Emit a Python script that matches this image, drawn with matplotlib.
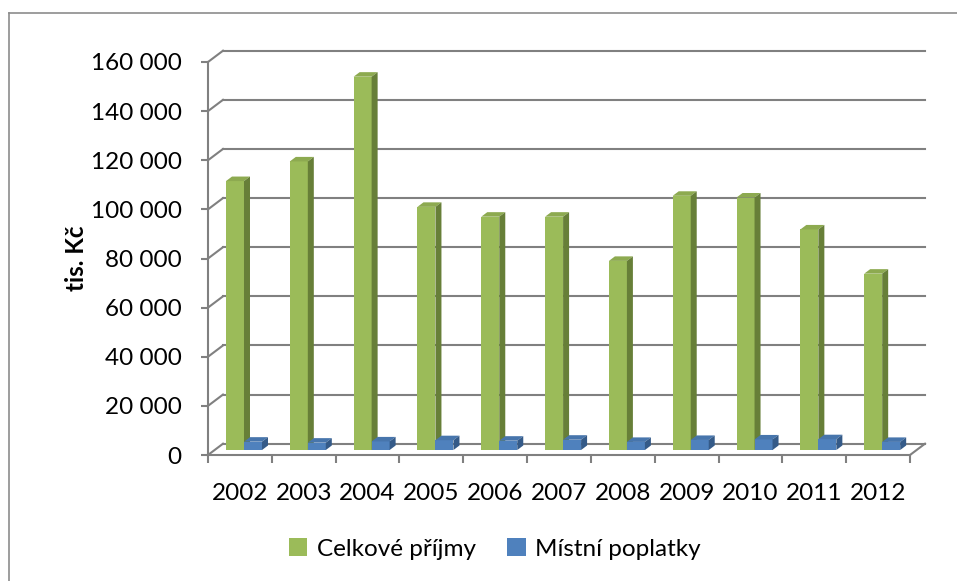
import matplotlib.pyplot as plt
from matplotlib.patches import Polygon, Patch
from matplotlib.lines import Line2D

plt.rcParams['font.family'] = ['Lato', 'DejaVu Sans']

years = ['2002', '2003', '2004', '2005', '2006', '2007', '2008', '2009', '2010', '2011', '2012']
celkove = [109500, 117500, 152000, 99000, 95000, 95000, 77000, 103500, 102800, 89800, 71800]
mistni = [3400, 3000, 3500, 4000, 3800, 4200, 3300, 4100, 4300, 4400, 3300]
yticks = [0, 20000, 40000, 60000, 80000, 100000, 120000, 140000, 160000]
series_names = ['Celkové příjmy', 'Místní poplatky']

W, H = 957, 581
fig = plt.figure(figsize=(W / 100, H / 100), dpi=100)
ax = fig.add_axes([208 / W, (H - 455) / H, 702 / W, 393 / H])

n = len(years)
ax.set_xlim(0, n)
ax.set_ylim(0, 160000)

# depth of the 3d box (in data units)
DX = 15 / 702 * n
DY = 11.3 / 393 * 160000
grid_c = '#808080'

# back wall grid + left wall diagonals
for v in yticks:
    ax.plot([DX, n + DX], [v + DY, v + DY], color=grid_c, lw=1.5, clip_on=False, zorder=1)
    ax.plot([0, DX], [v, v + DY], color=grid_c, lw=1.5, clip_on=False, zorder=1)
# floor right edge and front edge
ax.plot([n, n + DX], [0, DY], color=grid_c, lw=1.5, clip_on=False, zorder=1)
ax.plot([0, n], [0, 0], color=grid_c, lw=1.5, clip_on=False, zorder=2)
ax.plot([0, 0], [0, 160000], color=grid_c, lw=1.5, clip_on=False, zorder=2)

# bars (front face + top + side)
bw = 0.282
y0 = 0.44 * DY
bx, by = 0.4 * DX, 0.4 * DY
styles = [('#9BBB59', '#8DAA50', '#677F38', 0.282),
          ('#4F81BD', '#4775AC', '#345A88', 0.564)]
for k, (vals, st) in enumerate(zip([celkove, mistni], styles)):
    front, top, side, off = st
    xs = [i + off for i in range(n)]
    ax.bar(xs, vals, width=bw, bottom=y0, align='edge', color=front,
           edgecolor='none', zorder=3 + k, clip_on=False)
    for x, v in zip(xs, vals):
        yt = y0 + v
        ax.add_patch(Polygon([(x, yt), (x + bw, yt), (x + bw + bx, yt + by), (x + bx, yt + by)],
                             closed=True, facecolor=top, edgecolor='none', zorder=3 + k, clip_on=False))
        ax.add_patch(Polygon([(x + bw, y0), (x + bw + bx, y0 + by), (x + bw + bx, yt + by), (x + bw, yt)],
                             closed=True, facecolor=side, edgecolor='none', zorder=3 + k, clip_on=False))

for s in ax.spines.values():
    s.set_visible(False)

ax.set_yticks(yticks)
ax.set_yticklabels([f'{v:,}'.replace(',', ' ') for v in yticks])
ax.set_xticks(range(n + 1))
ax.set_xticklabels([''] * (n + 1))
ax.set_xticks([i + 0.5 for i in range(n)], minor=True)
ax.set_xticklabels(years, minor=True)
ax.tick_params(axis='y', length=5, width=1.5, color=grid_c, pad=14, labelsize=17.5)
ax.tick_params(axis='x', which='major', length=6, width=1.5, color=grid_c, direction='out')
ax.tick_params(axis='x', which='minor', length=0, pad=20, labelsize=17.5)

ax.set_ylabel('tis. Kč', fontsize=17.5, fontweight='bold', labelpad=2)

handles = [Patch(facecolor=styles[0][0]), Patch(facecolor=styles[1][0])]
fig.legend(handles, series_names, loc='center', bbox_to_anchor=(495 / W, 1 - 549 / H),
           ncol=2, frameon=False, fontsize=17.5, handlelength=0.75, handleheight=0.75,
           handletextpad=0.4, columnspacing=1.3)

# outer chart border (top and left visible)
fig.add_artist(Line2D([9 / W, 1], [1 - 13 / H, 1 - 13 / H], color='#8c8c8c', lw=1.2))
fig.add_artist(Line2D([9 / W, 9 / W], [0, 1 - 13 / H], color='#8c8c8c', lw=1.2))

fig.savefig('out.png', dpi=100)
